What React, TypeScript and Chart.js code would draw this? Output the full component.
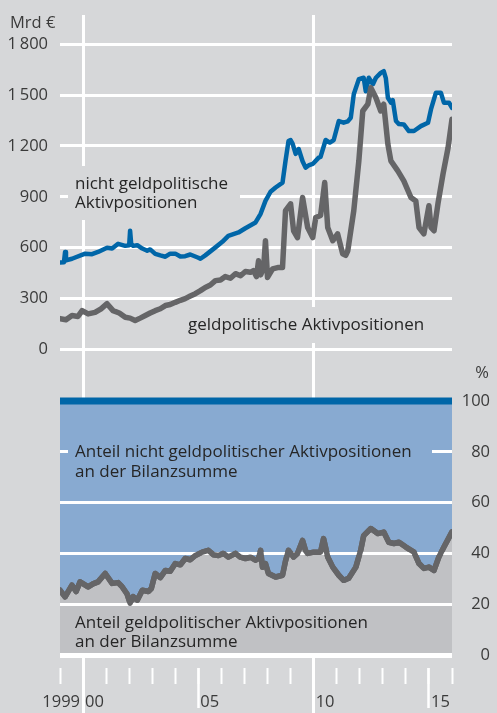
import React, { useEffect, useRef } from 'react';
import { Chart, registerables } from 'chart.js';

Chart.register(...registerables);

// ---------- data ----------
// Mrd €, nicht geldpolitische Aktivpositionen
const nonMonetaryDates = [
  1999.0, 1999.17, 1999.22, 1999.26, 1999.52, 2000.09, 2000.39, 2000.65, 2001.04, 2001.26,
  2001.52, 2001.83, 2002.0, 2002.04, 2002.09, 2002.17, 2002.35, 2002.57, 2002.78, 2002.91,
  2003.13, 2003.35, 2003.57, 2003.78, 2004.0, 2004.22, 2004.43, 2004.65, 2005.0, 2005.09,
  2005.3, 2005.74, 2006.04, 2006.3, 2006.74, 2007.04, 2007.48, 2007.7, 2007.91, 2008.13,
  2008.35, 2008.65, 2008.78, 2008.91, 2009.0, 2009.09, 2009.22, 2009.35, 2009.52, 2009.65,
  2009.78, 2009.96, 2010.22, 2010.3, 2010.52, 2010.7, 2010.87, 2011.09, 2011.3, 2011.48,
  2011.61, 2011.74, 2011.96, 2012.17, 2012.26, 2012.39, 2012.57, 2012.7, 2012.91, 2013.04,
  2013.13, 2013.22, 2013.35, 2013.43, 2013.57, 2013.7, 2013.91, 2014.13, 2014.35, 2014.65,
  2014.96, 2015.09, 2015.3, 2015.52, 2015.65, 2015.87, 2016.0,
];
const nonMonetaryValues = [
  513, 515, 575, 525, 535, 565, 562, 575, 600, 595,
  623, 611, 615, 700, 620, 611, 615, 595, 582, 590,
  564, 555, 547, 565, 565, 548, 550, 560, 541, 535,
  555, 602, 635, 670, 690, 715, 749, 800, 876, 930,
  955, 984, 1112, 1229, 1235, 1212, 1153, 1182, 1110, 1072,
  1085, 1094, 1131, 1135, 1235, 1220, 1235, 1347, 1337, 1345,
  1366, 1505, 1594, 1602, 1523, 1602, 1564, 1602, 1631, 1641,
  1600, 1484, 1455, 1470, 1347, 1329, 1327, 1288, 1288, 1317,
  1337, 1417, 1513, 1513, 1455, 1455, 1425,
];

// Mrd €, geldpolitische Aktivpositionen
const monetaryDates = [
  1999.0, 1999.26, 1999.52, 1999.78, 1999.96, 2000.22, 2000.52, 2000.78, 2001.04, 2001.3,
  2001.57, 2001.83, 2002.04, 2002.26, 2002.48, 2002.7, 2002.91, 2003.13, 2003.35, 2003.57,
  2003.78, 2004.0, 2004.22, 2004.43, 2004.65, 2004.87, 2005.09, 2005.3, 2005.52, 2005.74,
  2005.96, 2006.17, 2006.39, 2006.61, 2006.83, 2007.04, 2007.26, 2007.39, 2007.52, 2007.61,
  2007.7, 2007.83, 2007.91, 2008.0, 2008.22, 2008.48, 2008.65, 2008.78, 2009.0, 2009.13,
  2009.3, 2009.52, 2009.74, 2009.96, 2010.09, 2010.3, 2010.48, 2010.61, 2010.83, 2011.04,
  2011.26, 2011.39, 2011.48, 2011.74, 2011.96, 2012.13, 2012.35, 2012.48, 2012.7, 2012.91,
  2013.04, 2013.22, 2013.35, 2013.65, 2013.91, 2014.22, 2014.43, 2014.57, 2014.78, 2015.0,
  2015.09, 2015.22, 2015.39, 2015.61, 2015.83, 2016.0,
];
const monetaryValues = [
  182, 175, 200, 195, 229, 210, 219, 240, 270, 229,
  215, 190, 185, 171, 185, 200, 215, 229, 240, 259,
  265, 278, 290, 300, 315, 329, 347, 366, 380, 406,
  410, 430, 420, 447, 435, 460, 455, 465, 430, 523,
  440, 480, 641, 425, 475, 484, 484, 818, 859, 700,
  660, 896, 719, 660, 778, 790, 984, 719, 641, 682,
  564, 555, 582, 818, 1112, 1406, 1446, 1543, 1484, 1406,
  1446, 1210, 1112, 1053, 994, 896, 876, 719, 682, 847,
  720, 700, 859, 1035, 1190, 1358,
];

// %, Anteil geldpolitischer Aktivpositionen an der Bilanzsumme
const shareDates = [
  1999.0, 1999.22, 1999.52, 1999.7, 1999.87, 2000.22, 2000.43, 2000.65, 2000.96, 2001.26,
  2001.52, 2001.7, 2001.91, 2002.04, 2002.17, 2002.35, 2002.57, 2002.83, 2002.96, 2003.13,
  2003.35, 2003.57, 2003.78, 2004.0, 2004.22, 2004.43, 2004.65, 2004.87, 2005.17, 2005.43,
  2005.65, 2005.87, 2006.09, 2006.3, 2006.61, 2006.83, 2007.04, 2007.26, 2007.48, 2007.61,
  2007.7, 2007.78, 2007.91, 2008.04, 2008.35, 2008.65, 2008.78, 2008.91, 2009.13, 2009.3,
  2009.52, 2009.65, 2009.74, 2010.0, 2010.3, 2010.43, 2010.61, 2010.83, 2011.09, 2011.3,
  2011.52, 2011.83, 2012.04, 2012.17, 2012.48, 2012.78, 2013.04, 2013.26, 2013.48, 2013.7,
  2014.0, 2014.35, 2014.57, 2014.78, 2015.0, 2015.22, 2015.43, 2015.65, 2015.96, 2016.0,
];
const shareValues = [
  25.5, 22.9, 27.5, 25, 28.8, 26.8, 28, 28.8, 32.1, 28.2,
  28.5, 26.8, 24, 20.4, 23, 21.6, 25.5, 25, 26.2, 32.1,
  30.5, 33.3, 33, 36, 35.5, 38, 37.5, 39.2, 40.5, 41.2,
  39.5, 39.2, 40, 38.6, 40, 38.5, 38, 38.5, 37.3, 38,
  41.2, 34.6, 36, 32.1, 30.7, 31.4, 37, 41.2, 38.6, 40,
  45.1, 41, 40, 40.5, 40.5, 45.8, 38.6, 34.6, 31.4, 29.4,
  30.2, 34.6, 41.2, 47, 49.8, 47.8, 48.4, 44.4, 43.9, 44.4,
  42.5, 40.5, 36, 34.1, 34.6, 33.3, 38.6, 42.5, 47.8, 48.5,
];
const totalShare = 100;

// axes
const firstYear = 1999;
const lastYear = 2016;
const levelTicks = [0, 300, 600, 900, 1200, 1500, 1800];
const topGridYears = [2000, 2010];
const tickYears = [1999, 2000, 2001, 2002, 2003, 2004, 2005, 2006, 2007, 2008, 2009, 2010, 2011, 2012, 2013, 2014, 2015, 2016];
const labelYears = [2000, 2005, 2010, 2015];
const yearLabels = ['00', '05', '10', '15'];
const firstYearLabel = '1999';

// ---------- styles ----------
const FONT = "'Open Sans', 'Noto Sans', sans-serif";
const BG = '#d6d7d9';
const BLUE_LINE = '#0066a8';
const GRAY_LINE = '#656567';
const BLUE_FILL = '#88aad1';
const GRAY_FILL = '#c0c1c4';
const WHITE = '#ffffff';
const TEXT = '#262626';
const TICK_TEXT = '#3a3a3a';

Chart.defaults.font.family = FONT;

const fmtLevel = (v: number) => {
  if (v >= 1000) return `${Math.floor(v / 1000)}\u2009${String(v % 1000).padStart(3, '0')}`;
  return String(v);
};

const toPoints = (xs: number[], ys: number[]) => xs.map((x, i) => ({ x, y: ys[i] }));

const noPadding = (s: any) => {
  s.paddingTop = 0;
  s.paddingBottom = 0;
  s.paddingLeft = 0;
  s.paddingRight = 0;
};

const topAnnotations = {
  id: 'topAnnotations',
  beforeDatasetsDraw(chart: any) {
    const ctx = chart.ctx;
    ctx.save();
    ctx.fillStyle = BG;
    ctx.fillRect(68, 166, 172, 54);
    ctx.fillRect(182, 307, 258, 36);
    ctx.fillStyle = TEXT;
    ctx.font = `17px ${FONT}`;
    ctx.textBaseline = 'alphabetic';
    ctx.textAlign = 'left';
    ctx.fillText('nicht geldpolitische', 75, 189);
    ctx.fillText('Aktivpositionen', 75, 208);
    ctx.fillText('geldpolitische Aktivpositionen', 188, 330);
    ctx.fillStyle = TICK_TEXT;
    ctx.font = `16.5px ${FONT}`;
    ctx.fillText('Mrd €', 10, 28);
    ctx.restore();
  },
};

const bottomAnnotations = {
  id: 'bottomAnnotations',
  beforeDraw(chart: any) {
    // the short-tick axis has zero layout height; give its label clip box room
    const xs = chart.scales.xs;
    if (xs) xs.bottom = xs.top + 45;
  },
  afterDraw(chart: any) {
    const ctx = chart.ctx;
    ctx.save();
    ctx.fillStyle = BLUE_FILL;
    ctx.fillRect(68, 78, 364, 48);
    ctx.fillStyle = TEXT;
    ctx.font = `17px ${FONT}`;
    ctx.textBaseline = 'alphabetic';
    ctx.textAlign = 'left';
    ctx.fillText('Anteil nicht geldpolitischer Aktivpositionen', 75, 97);
    ctx.fillText('an der Bilanzsumme', 75, 117);
    ctx.fillText('Anteil geldpolitischer Aktivpositionen', 75, 268);
    ctx.fillText('an der Bilanzsumme', 75, 287);
    ctx.fillStyle = TICK_TEXT;
    ctx.font = `16.5px ${FONT}`;
    ctx.textAlign = 'right';
    ctx.fillText('%', 489, 18);
    ctx.restore();

    // share line on top of the white grid
    const area = chart.chartArea;
    ctx.save();
    ctx.beginPath();
    ctx.rect(area.left, area.top - 10, area.right - area.left, area.bottom - area.top + 20);
    ctx.clip();
    chart.getDatasetMeta(0).controller.draw();
    ctx.restore();
  },
};

export default function App() {
  const topRef = useRef<HTMLCanvasElement>(null);
  const botRef = useRef<HTMLCanvasElement>(null);

  useEffect(() => {
    document.body.style.margin = '0';
    const top = new Chart(topRef.current as HTMLCanvasElement, {
      type: 'line',
      data: {
        datasets: [
          {
            label: 'nicht geldpolitische Aktivpositionen',
            data: toPoints(nonMonetaryDates, nonMonetaryValues),
            borderColor: BLUE_LINE,
            borderWidth: 4.5,
            pointRadius: 0,
            tension: 0,
            borderJoinStyle: 'round',
            borderCapStyle: 'round',
            order: 1,
          },
          {
            label: 'geldpolitische Aktivpositionen',
            data: toPoints(monetaryDates, monetaryValues),
            borderColor: GRAY_LINE,
            borderWidth: 5.5,
            pointRadius: 0,
            tension: 0,
            borderJoinStyle: 'round',
            borderCapStyle: 'round',
            order: 0,
          },
        ],
      },
      options: {
        responsive: false,
        animation: false,
        events: [],
        layout: { padding: { top: 15, right: 45, bottom: 0, left: 0 } },
        scales: {
          x: {
            type: 'linear',
            min: firstYear,
            max: lastYear,
            afterBuildTicks: (s: any) => { s.ticks = topGridYears.map((v) => ({ value: v })); },
            afterFit: (s: any) => { s.height = 0; noPadding(s); },
            grid: { color: WHITE, lineWidth: 3, drawTicks: false },
            border: { display: false },
            ticks: { display: false },
          },
          y: {
            type: 'linear',
            min: -2143,
            max: 1972,
            afterBuildTicks: (s: any) => { s.ticks = levelTicks.map((v) => ({ value: v })); },
            afterFit: (s: any) => { s.width = 60; noPadding(s); },
            grid: { color: WHITE, lineWidth: 3, drawTicks: false },
            border: { display: false },
            ticks: {
              padding: 12,
              color: TICK_TEXT,
              font: { size: 16.5 },
              callback: (v: any) => fmtLevel(Number(v)),
            },
          },
        },
        plugins: { legend: { display: false }, tooltip: { enabled: false } },
      } as any,
      plugins: [topAnnotations],
    });

    const bottom = new Chart(botRef.current as HTMLCanvasElement, {
      type: 'line',
      data: {
        datasets: [
          {
            label: 'Anteil geldpolitischer Aktivpositionen an der Bilanzsumme',
            data: toPoints(shareDates, shareValues),
            borderColor: GRAY_LINE,
            borderWidth: 5.5,
            backgroundColor: GRAY_FILL,
            fill: 'origin',
            pointRadius: 0,
            tension: 0,
            borderJoinStyle: 'round',
            borderCapStyle: 'round',
            order: 0,
          },
          {
            label: 'Anteil nicht geldpolitischer Aktivpositionen an der Bilanzsumme',
            data: [{ x: firstYear, y: totalShare }, { x: lastYear, y: totalShare }],
            borderColor: BLUE_LINE,
            borderWidth: 7,
            backgroundColor: BLUE_FILL,
            fill: 'origin',
            pointRadius: 0,
            borderCapStyle: 'butt',
            clip: 10,
            order: 1,
          },
        ],
      },
      options: {
        responsive: false,
        animation: false,
        events: [],
        layout: { padding: { top: 41, right: 7, bottom: 0, left: 60 } },
        scales: {
          x: {
            type: 'linear',
            position: 'bottom',
            weight: 0,
            min: firstYear,
            max: lastYear,
            afterFit: (s: any) => { s.height = 13; noPadding(s); },
            grid: { drawOnChartArea: false, drawTicks: false },
            border: { display: false },
            ticks: { display: false },
          },
          xs: {
            type: 'linear',
            position: 'bottom',
            weight: 1,
            min: firstYear,
            max: lastYear,
            afterBuildTicks: (s: any) => { s.ticks = tickYears.map((v) => ({ value: v })); },
            afterFit: (s: any) => { s.height = 0; noPadding(s); },
            grid: { drawOnChartArea: false, tickLength: 16, tickColor: WHITE, tickWidth: 2 },
            border: { display: false },
            ticks: {
              align: 'start',
              labelOffset: 2,
              padding: 8.5,
              autoSkip: false,
              maxRotation: 0,
              minRotation: 0,
              color: TICK_TEXT,
              font: { size: 16.5 },
              callback: (v: any) => {
                const i = labelYears.indexOf(Number(v));
                return i >= 0 ? yearLabels[i] : '';
              },
            },
          },
          xl: {
            type: 'linear',
            position: 'bottom',
            weight: 2,
            min: firstYear,
            max: lastYear,
            afterBuildTicks: (s: any) => { s.ticks = labelYears.map((v) => ({ value: v })); },
            afterFit: (s: any) => { s.height = 45; noPadding(s); },
            grid: { drawOnChartArea: false, tickLength: 40, tickColor: WHITE, tickWidth: 2.5 },
            border: { display: false },
            ticks: {
              align: 'end',
              labelOffset: -3,
              padding: -15.5,
              autoSkip: false,
              maxRotation: 0,
              minRotation: 0,
              color: TICK_TEXT,
              font: { size: 16.5 },
              callback: (v: any) => (Number(v) === labelYears[0] ? firstYearLabel : ''),
            },
          },
          y: {
            type: 'linear',
            position: 'right',
            min: 0,
            max: 100,
            afterFit: (s: any) => { s.width = 38; },
            grid: {
              color: (c: any) => (c.tick && c.tick.value === 100 ? 'rgba(0,0,0,0)' : WHITE),
              lineWidth: (c: any) => (c.tick && c.tick.value === 0 ? 5 : 3),
              drawTicks: false,
              z: 1,
            },
            border: { display: false },
            ticks: {
              stepSize: 20,
              crossAlign: 'far',
              color: TICK_TEXT,
              font: { size: 16.5 },
            },
          },
        },
        plugins: { legend: { display: false }, tooltip: { enabled: false } },
      } as any,
      plugins: [bottomAnnotations],
    });

    return () => {
      top.destroy();
      bottom.destroy();
    };
  }, []);

  return (
    <div style={{ position: 'relative', width: 497, height: 713, background: BG, overflow: 'hidden' }}>
      <canvas ref={topRef} width={497} height={713} style={{ position: 'absolute', left: 0, top: 0 }} />
      <canvas ref={botRef} width={497} height={353} style={{ position: 'absolute', left: 0, top: 360 }} />
    </div>
  );
}
